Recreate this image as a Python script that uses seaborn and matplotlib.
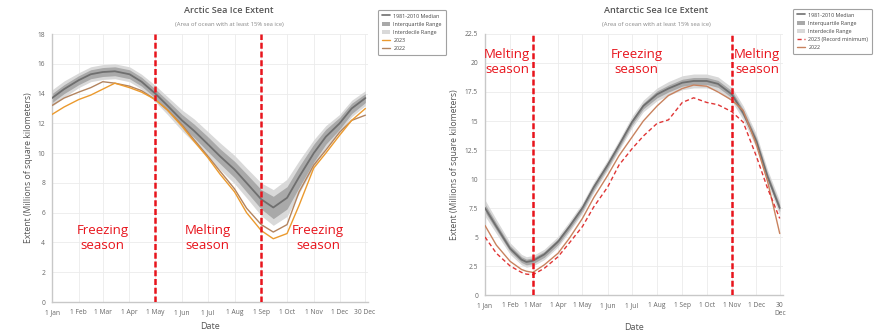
import matplotlib
matplotlib.use("Agg")
import matplotlib.pyplot as plt
import pandas as pd
import seaborn as sns
from matplotlib.lines import Line2D
from matplotlib.patches import Patch

# day-of-year grid the values were read at
arctic_days = [1, 15, 32, 46, 60, 74, 91, 105, 121, 135, 152, 166, 182, 196, 213, 227, 244, 258, 274, 288, 305, 319, 335, 349, 365]
arctic_median = [13.7, 14.3, 14.9, 15.3, 15.45, 15.5, 15.3, 14.8, 14.0, 13.2, 12.2, 11.5, 10.6, 9.8, 8.9, 8.0, 6.9, 6.35, 7.0, 8.4, 10.0, 11.1, 12.0, 13.0, 13.7]
arctic_iqr = [0.3, 0.3, 0.3, 0.3, 0.3, 0.3, 0.3, 0.3, 0.3, 0.35, 0.4, 0.45, 0.5, 0.5, 0.55, 0.6, 0.65, 0.75, 0.75, 0.7, 0.6, 0.5, 0.4, 0.35, 0.3]
arctic_idr = [0.55, 0.55, 0.5, 0.5, 0.5, 0.5, 0.5, 0.5, 0.55, 0.6, 0.7, 0.8, 0.85, 0.9, 0.95, 1.0, 1.1, 1.2, 1.25, 1.1, 0.9, 0.75, 0.6, 0.55, 0.5]
arctic_2023 = [12.6, 13.1, 13.6, 13.9, 14.3, 14.7, 14.4, 14.1, 13.6, 12.9, 11.8, 10.8, 9.7, 8.6, 7.4, 6.0, 4.8, 4.25, 4.6, 6.5, 9.0, 10.0, 11.2, 12.2, 13.0]
arctic_2022 = [13.2, 13.7, 14.1, 14.4, 14.8, 14.7, 14.5, 14.2, 13.6, 12.9, 11.9, 10.9, 9.8, 8.8, 7.6, 6.3, 5.2, 4.7, 5.2, 7.4, 9.2, 10.2, 11.4, 12.2, 12.55]

antarctic_days = [1, 15, 32, 46, 52, 60, 74, 91, 105, 121, 135, 152, 166, 182, 196, 213, 227, 244, 258, 274, 288, 305, 319, 335, 349, 364]
antarctic_median = [7.5, 5.9, 4.0, 3.05, 2.85, 2.95, 3.5, 4.6, 5.9, 7.5, 9.3, 11.2, 12.9, 14.9, 16.3, 17.3, 17.8, 18.3, 18.45, 18.45, 18.2, 17.3, 15.7, 13.3, 10.2, 7.5]
antarctic_iqr = [0.35, 0.3, 0.25, 0.25, 0.25, 0.25, 0.25, 0.25, 0.25, 0.25, 0.25, 0.25, 0.25, 0.25, 0.25, 0.3, 0.3, 0.3, 0.3, 0.3, 0.3, 0.3, 0.3, 0.3, 0.3, 0.3]
antarctic_idr = [0.7, 0.6, 0.5, 0.45, 0.45, 0.45, 0.45, 0.45, 0.45, 0.45, 0.45, 0.45, 0.45, 0.5, 0.5, 0.55, 0.6, 0.6, 0.6, 0.6, 0.6, 0.6, 0.6, 0.6, 0.6, 0.6]
antarctic_2023 = [5.0, 3.6, 2.5, 1.95, 1.8, 1.75, 2.3, 3.3, 4.5, 5.9, 7.6, 9.3, 11.2, 12.6, 13.7, 14.8, 15.1, 16.6, 17.0, 16.6, 16.4, 15.8, 14.9, 12.0, 9.2, 6.6]
antarctic_2022 = [6.0, 4.3, 2.9, 2.2, 2.05, 1.95, 2.6, 3.6, 4.9, 6.6, 8.4, 10.3, 12.0, 13.6, 15.0, 16.3, 17.2, 17.8, 18.1, 18.0, 17.5, 16.8, 15.9, 13.0, 9.8, 5.3]

tick_days = [1, 32, 60, 91, 121, 152, 182, 213, 244, 274, 305, 335, 364]
arctic_tick_labels = ["1 Jan", "1 Feb", "1 Mar", "1 Apr", "1 May", "1 Jun", "1 Jul",
                      "1 Aug", "1 Sep", "1 Oct", "1 Nov", "1 Dec", "30 Dec"]
antarctic_tick_labels = arctic_tick_labels[:-1] + ["30\nDec"]
arctic_season_days = [121, 244]
antarctic_season_days = [60, 305]

sns.set_style("white")
plt.rcParams["font.family"] = ["Open Sans", "DejaVu Sans"]

MEDIAN_C = "#6f6f6f"
IQR_C = "#a9a9a9"
IDR_C = "#d9d9d9"
SEASON_RED = "#e8141c"
TXT_GREY = "#555555"

fig = plt.figure(figsize=(8.77, 3.30), dpi=100)
ax1 = fig.add_axes([0.0593, 0.0848, 0.3603, 0.812])
ax2 = fig.add_axes([0.553, 0.106, 0.3398, 0.791])


def draw_panel(ax, days, med, iqr, idr, ys, yticks, ymax, tick_labels, seasons, ypad):
    df = pd.DataFrame({"day": days, "median": med})
    lo_d = [m - h for m, h in zip(med, idr)]
    hi_d = [m + h for m, h in zip(med, idr)]
    lo_q = [m - h for m, h in zip(med, iqr)]
    hi_q = [m + h for m, h in zip(med, iqr)]
    ax.fill_between(days, lo_d, hi_d, color=IDR_C, lw=0, zorder=1)
    ax.fill_between(days, lo_q, hi_q, color=IQR_C, lw=0, zorder=2)
    sns.lineplot(data=df, x="day", y="median", ax=ax, color=MEDIAN_C, lw=1.3, zorder=4)
    for vals, color, ls in ys:
        d = pd.DataFrame({"day": days, "v": vals})
        sns.lineplot(data=d, x="day", y="v", ax=ax, color=color, lw=1.0,
                     linestyle=ls, zorder=5)
    for s in seasons:
        ax.axvline(s, color=SEASON_RED, lw=1.8, dashes=(2.4, 1.1), zorder=6)

    ax.set_xlim(1, 368)
    ax.set_ylim(0, ymax)
    ax.set_yticks(yticks)
    ax.set_yticklabels([f"{t:g}" for t in yticks])
    ax.set_xticks(tick_days)
    ax.set_xticklabels(tick_labels)
    ax.tick_params(labelsize=4.8, colors="#666666", length=0, pad=5)
    ax.grid(True, color="#ebebeb", lw=0.6)
    for sp in ["top", "right"]:
        ax.spines[sp].set_visible(False)
    for sp in ["left", "bottom"]:
        ax.spines[sp].set_color("#c8c8c8")
        ax.spines[sp].set_linewidth(1.0)
    ax.set_xlabel("Date", fontsize=6.5, color=TXT_GREY, labelpad=4)
    ax.set_ylabel("Extent (Millions of square kilometers)", fontsize=6.2,
                  color=TXT_GREY, labelpad=ypad)


draw_panel(ax1, arctic_days, arctic_median, arctic_iqr, arctic_idr,
           [(arctic_2022, "#b3845f", "-"), (arctic_2023, "#eb9a2e", "-")],
           list(range(0, 19, 2)), 18, arctic_tick_labels, arctic_season_days, 3)
draw_panel(ax2, antarctic_days, antarctic_median, antarctic_iqr, antarctic_idr,
           [(antarctic_2022, "#c8825e", "-"), (antarctic_2023, "#e03535", (0, (3, 2)))],
           [0, 2.5, 5, 7.5, 10, 12.5, 15, 17.5, 20, 22.5], 22.5,
           antarctic_tick_labels, antarctic_season_days, 4)

# season annotations
for x, label in [(60, "Freezing\nseason"), (182, "Melting\nseason"), (310, "Freezing\nseason")]:
    ax1.text(x, 4.3, label, ha="center", va="center", color=SEASON_RED,
             fontsize=9.5, linespacing=1.15, zorder=7)
for x, label in [(28, "Melting\nseason"), (188, "Freezing\nseason"), (336, "Melting\nseason")]:
    ax2.text(x, 20.1, label, ha="center", va="center", color=SEASON_RED,
             fontsize=9.5, linespacing=1.15, zorder=7)

# titles
fig.text(0.261, 0.968, "Arctic Sea Ice Extent", ha="center", va="center",
         fontsize=6.6, color=TXT_GREY, fontweight="semibold")
fig.text(0.261, 0.927, "(Area of ocean with at least 15% sea ice)", ha="center",
         va="center", fontsize=4.2, color="#888888")
fig.text(0.748, 0.968, "Antarctic Sea Ice Extent", ha="center", va="center",
         fontsize=6.6, color=TXT_GREY, fontweight="semibold")
fig.text(0.748, 0.927, "(Area of ocean with at least 15% sea ice)", ha="center",
         va="center", fontsize=4.2, color="#888888")


def legend_handles(y2023_color, y2023_ls, y2022_color):
    return [Line2D([], [], color=MEDIAN_C, lw=1.2),
            Patch(facecolor=IQR_C, edgecolor="none"),
            Patch(facecolor=IDR_C, edgecolor="none"),
            Line2D([], [], color=y2023_color, lw=1.0, linestyle=y2023_ls),
            Line2D([], [], color=y2022_color, lw=1.0)]


leg_kw = dict(fontsize=3.9, frameon=True, fancybox=True, handlelength=1.6,
              handleheight=0.9, labelspacing=0.55, borderpad=0.7,
              handletextpad=0.6, loc="upper left")
l1 = fig.legend(legend_handles("#eb9a2e", "-", "#b3845f"),
                ["1981-2010 Median", "Interquartile Range", "Interdecile Range", "2023", "2022"],
                bbox_to_anchor=(0.4276, 0.979), **leg_kw)
l2 = fig.legend(legend_handles("#e03535", (0, (3, 2)), "#c8825e"),
                ["1981-2010 Median", "Interquartile Range", "Interdecile Range",
                 "2023 (Record minimum)", "2022"],
                bbox_to_anchor=(0.9008, 0.982), **leg_kw)
for lg in (l1, l2):
    lg.get_frame().set_edgecolor("#8a8a8a")
    lg.get_frame().set_linewidth(0.8)
    for t in lg.get_texts():
        t.set_color("#444444")

fig.savefig("out.png", dpi=100, facecolor="white")
